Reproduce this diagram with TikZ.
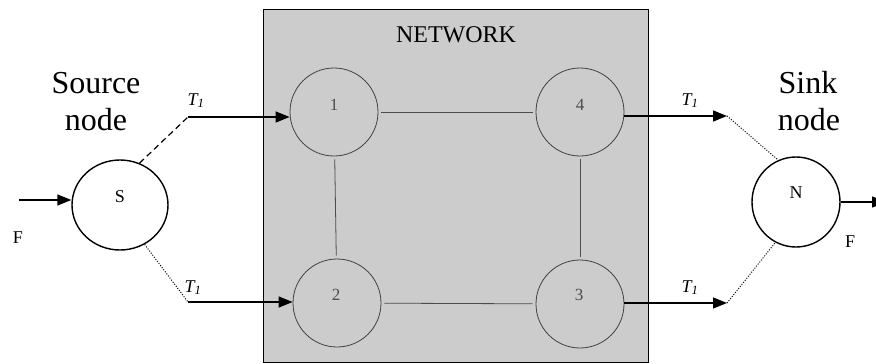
\documentclass[tikz,border=0pt]{standalone}
\usepackage{fontspec}
\setmainfont{Liberation Serif}
\usetikzlibrary{arrows.meta,shapes.geometric}
\begin{document}
\begin{tikzpicture}[x=1pt,y=-1pt,
  big/.style={font=\fontsize{32}{38}\selectfont, inner sep=0, anchor=base},
  lbl/.style={font=\fontsize{18}{22}\selectfont, inner sep=0, anchor=base},
  num/.style={font=\fontsize{17}{20}\selectfont, text=black!70, inner sep=0, anchor=base},
  tl/.style={font=\fontsize{18}{22}\selectfont\itshape, inner sep=0, anchor=base},
  endpt/.style={draw, line width=1.4pt, ellipse, minimum width=96pt, minimum height=90pt, inner sep=0},
  netnode/.style={draw=black!75, line width=0.8pt, circle, minimum size=88pt, inner sep=0},
  arr/.style={line width=1.4pt, -{Triangle[length=14pt,width=11pt]}},
  dashln/.style={line width=1.2pt, dash pattern=on 6pt off 4pt},
  dotln/.style={line width=1pt, dash pattern=on 1pt off 1.6pt},
  link/.style={draw=black!70, line width=0.8pt, shorten <=3pt, shorten >=3pt}
]
\useasboundingbox (0,0) rectangle (876,364);

% network box
\node[draw, line width=1.4pt, fill=black!20, minimum width=385pt, minimum height=353pt,
      inner sep=0, anchor=north west] (net) at (263,9) {};
\node[font=\fontsize{24}{28}\selectfont, inner sep=0, anchor=base] (nettitle) at (456,42) {NETWORK};

% network nodes
\node[netnode] (n1) at (334,112) {};
\node[netnode] (n2) at (337,303) {};
\node[netnode] (n4) at (580,112) {};
\node[netnode] (n3) at (580,304) {};
\node[num] (l1) at (334,110) {1};
\node[num] (l2) at (336,300) {2};
\node[num] (l3) at (579,300) {3};
\node[num] (l4) at (580,110) {4};

\draw[link] (n1) -- (n4);
\draw[link] (n1) -- (n2);
\draw[link] (n4) -- (n3);
\draw[link] (n2) -- (n3);

% source and sink
\node[endpt] (S) at (120,205) {};
\node[endpt, minimum width=88pt] (N) at (796,202) {};
\node[lbl] (Slbl) at (120,202) {S};
\node[lbl] (Nlbl) at (796,198) {N};

\node[big] (src1) at (96,93) {Source};
\node[big] (src2) at (96,130) {node};
\node[big] (snk1) at (808,93) {Sink};
\node[big] (snk2) at (809,130) {node};

\node[lbl] (F1) at (18,243) {F};
\node[lbl] (F2) at (850,247) {F};

% coordinates
\coordinate (fin) at (19,200);
\coordinate (a1) at (188,117);
\coordinate (a2) at (188,302);
\coordinate (b1) at (727,116);
\coordinate (b2) at (727,303);
\coordinate (fout) at (886,202);

% connectors
\draw[arr] (fin) -- (fin -| S.west);
\draw[dashln] (S.65) -- (a1);
\draw[arr] (a1) -- (a1 -| n1.west);
\draw[dotln] (S.-58) -- (a2);
\draw[arr] (a2) -- (a2 -| n2.west);

\draw[arr] (n4.east |- b1) -- (b1);
\draw[dotln] (b1) -- (N.113);
\draw[arr] (n3.east |- b2) -- (b2);
\draw[dotln] (b2) -- (N.243);
\draw[arr] (N.east) -- (fout);

% T1 labels
\node[tl] (t1) at (196,105) {T\textsubscript{1}};
\node[tl] (t2) at (193,292) {T\textsubscript{1}};
\node[tl] (t3) at (690,105) {T\textsubscript{1}};
\node[tl] (t4) at (690,292) {T\textsubscript{1}};
\end{tikzpicture}
\end{document}
